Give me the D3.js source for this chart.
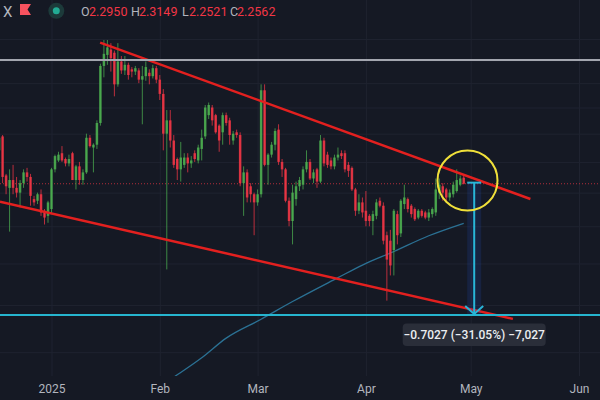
<!DOCTYPE html>
<html>
<head>
<meta charset="utf-8">
<script src="https://cdn.jsdelivr.net/npm/d3@7"></script>
<style>
  html, body { margin: 0; padding: 0; background: #151924; overflow: hidden; }
  svg { display: block; }
  text { font-family: Roboto, "Noto Sans", sans-serif; }
</style>
</head>
<body>
<svg id="chart" width="600" height="400"></svg>
<script>
// daily candles, first one on 17 Dec 2024, one per day
const firstDay = new Date(Date.UTC(2024, 11, 17));

const openVals = [
  2.48, 2.58, 2.31, 2.23, 2.28, 2.23, 2.20, 2.26, 2.33, 2.30, 2.16, 2.15, 2.19, 2.09, 2.06,
  2.10, 2.35, 2.41, 2.46, 2.42, 2.39, 2.46, 2.28, 2.37, 2.28, 2.33, 2.57, 2.50, 2.52, 2.68,
  3.15, 3.25, 3.30, 3.27, 2.99, 3.19, 3.11, 3.16, 3.12, 3.10, 3.11, 3.03, 3.06, 3.09, 3.06, 3.13,
  3.03, 2.91, 2.60, 2.70, 2.55, 2.42, 2.35, 2.38, 2.43, 2.39, 2.46, 2.41, 2.49, 2.58, 2.74,
  2.80, 2.74, 2.66, 2.61, 2.74, 2.70, 2.55, 2.61, 2.59, 2.26, 2.33, 2.24, 2.19,
  2.14, 2.19, 2.94, 2.38, 2.45, 2.52, 2.63, 2.40, 2.35, 2.15, 2.03, 2.16, 2.24, 2.25, 2.35,
  2.40, 2.29, 2.35, 2.27, 2.55, 2.45, 2.41, 2.37, 2.43, 2.46, 2.46, 2.38, 2.36, 2.22, 2.09, 2.14,
  2.09, 2.06, 2.03, 2.06, 2.15, 2.12, 1.95, 1.92, 1.87, 2.07, 1.96, 2.13, 2.16, 2.12, 2.10,
  2.05, 2.09, 2.08, 2.05, 2.07, 2.08, 2.20, 2.24, 2.22, 2.17, 2.19, 2.21, 2.25, 2.2950
];
const highVals = [
  2.60, 2.59, 2.32, 2.35, 2.38, 2.30, 2.28, 2.35, 2.36, 2.32, 2.18, 2.20, 2.22, 2.10, 2.15,
  2.36, 2.45, 2.47, 2.51, 2.43, 2.45, 2.47, 2.38, 2.40, 2.35, 2.60, 2.59, 2.53, 2.70, 3.17,
  3.39, 3.39, 3.36, 3.29, 3.36, 3.24, 3.24, 3.18, 3.14, 3.15, 3.13, 3.15, 3.19, 3.12, 3.16, 3.15,
  3.07, 2.95, 2.78, 2.78, 2.59, 2.43, 2.54, 2.46, 2.46, 2.44, 2.48, 2.52, 2.63, 2.82, 2.84,
  2.82, 2.75, 2.67, 2.76, 2.76, 2.72, 2.62, 2.63, 2.61, 2.37, 2.35, 2.26, 2.20,
  2.22, 2.99, 2.99, 2.46, 2.54, 2.64, 2.67, 2.42, 2.36, 2.17, 2.25, 2.27, 2.30, 2.37, 2.48,
  2.42, 2.35, 2.36, 2.59, 2.57, 2.47, 2.43, 2.45, 2.50, 2.48, 2.48, 2.40, 2.37, 2.23, 2.19, 2.17,
  2.21, 2.07, 2.09, 2.16, 2.17, 2.14, 1.97, 1.98, 2.10, 2.09, 2.16, 2.25, 2.17, 2.13, 2.11,
  2.10, 2.10, 2.09, 2.10, 2.11, 2.29, 2.29, 2.26, 2.23, 2.22, 2.27, 2.35, 2.31, 2.3149
];
const lowVals = [
  2.45, 2.26, 2.19, 1.97, 2.19, 2.17, 2.11, 2.23, 2.27, 2.12, 2.12, 2.13, 2.06, 2.01, 2.02,
  2.07, 2.33, 2.40, 2.40, 2.37, 2.37, 2.28, 2.22, 2.25, 2.25, 2.32, 2.50, 2.33, 2.49, 2.66,
  3.05, 3.16, 3.10, 2.89, 2.97, 3.08, 3.07, 3.03, 3.05, 3.07, 3.00, 2.67, 3.02, 2.99, 3.04, 3.00,
  2.86, 2.48, 1.77, 2.50, 2.36, 2.28, 2.27, 2.36, 2.33, 2.36, 2.40, 2.39, 2.41, 2.56, 2.71,
  2.66, 2.60, 2.47, 2.52, 2.66, 2.52, 2.52, 2.57, 2.24, 2.06, 2.14, 2.14, 1.95,
  2.12, 2.17, 2.37, 2.25, 2.43, 2.48, 2.38, 2.30, 2.14, 2.00, 1.90, 2.12, 2.21, 2.22, 2.33,
  2.28, 2.26, 2.23, 2.26, 2.37, 2.36, 2.35, 2.35, 2.41, 2.42, 2.33, 2.30, 2.21, 2.06, 2.07, 2.05,
  2.00, 2.00, 1.95, 2.04, 2.11, 1.90, 1.62, 1.74, 1.74, 1.90, 1.94, 2.10, 2.08, 2.05, 2.03,
  2.04, 2.05, 2.04, 2.03, 2.05, 2.06, 2.16, 2.15, 2.14, 2.15, 2.17, 2.20, 2.24, 2.2521
];
const closeVals = [
  2.57, 2.30, 2.24, 2.28, 2.23, 2.20, 2.26, 2.33, 2.30, 2.18, 2.14, 2.19, 2.08, 2.05, 2.14,
  2.35, 2.44, 2.45, 2.41, 2.39, 2.42, 2.28, 2.37, 2.28, 2.33, 2.57, 2.51, 2.52, 2.68, 3.15,
  3.26, 3.32, 3.22, 2.99, 3.19, 3.11, 3.16, 3.07, 3.10, 3.13, 3.03, 3.06, 3.14, 3.06, 3.13, 3.03,
  2.91, 2.60, 2.70, 2.55, 2.38, 2.35, 2.43, 2.43, 2.39, 2.41, 2.42, 2.50, 2.57, 2.80, 2.82,
  2.70, 2.61, 2.55, 2.74, 2.68, 2.59, 2.60, 2.59, 2.26, 2.33, 2.17, 2.19, 2.14,
  2.19, 2.94, 2.38, 2.45, 2.52, 2.62, 2.40, 2.35, 2.15, 2.03, 2.20, 2.24, 2.28, 2.35, 2.40,
  2.29, 2.33, 2.27, 2.55, 2.39, 2.38, 2.37, 2.43, 2.45, 2.44, 2.35, 2.34, 2.22, 2.09, 2.14, 2.08,
  2.03, 2.03, 2.07, 2.14, 2.12, 1.92, 1.82, 1.79, 2.09, 1.95, 2.15, 2.17, 2.10, 2.07, 2.04,
  2.09, 2.06, 2.05, 2.08, 2.10, 2.22, 2.25, 2.20, 2.17, 2.20, 2.25, 2.28, 2.29, 2.2562
];

// slow moving average, read at a few dates
const maDates = ["2025-01-29", "2025-02-06", "2025-02-13", "2025-02-20", "2025-03-02", "2025-03-11",
                 "2025-03-24", "2025-03-31", "2025-04-09", "2025-04-19", "2025-04-29"];
const maVals = [1.247, 1.313, 1.378, 1.457, 1.537, 1.616, 1.729, 1.792, 1.862, 1.947, 2.017];

const monthTicks = ["2025-01-01", "2025-02-01", "2025-03-01", "2025-04-01", "2025-05-01", "2025-06-01"];
const monthLabels = ["2025", "Feb", "Mar", "Apr", "May", "Jun"];
const priceTicks = [1.4, 1.6, 1.8, 2.0, 2.2, 2.4, 2.6, 2.8, 3.0, 3.2, 3.4];

// drawings
const upperTrend = [["2025-01-14T22:00:00Z", 3.365], ["2025-05-18T02:00:00Z", 2.161]];
const lowerTrend = [["2024-12-17T06:00:00Z", 2.1445], ["2025-05-13T02:00:00Z", 1.5385]];
const resistanceLevel = 3.204;
const targetLevel = 1.5557;
const measureDates = ["2025-04-30", "2025-05-04"];
const measurePrices = [2.2631, 1.5604];
const measureText = "\u22120.7027 (\u221231.05%) \u22127,027";
const focusPoint = ["2025-04-30T02:00:00Z", 2.277];
const ohlcLabels = ["O", "H", "L", "C"];
const ohlcValues = ["2.2950", "2.3149", "2.2521", "2.2562"];

const W = 600, H = 400, plotBottom = 376;
const upColor = "#4caf50", downColor = "#f23645";

const candles = openVals.map((o, i) => ({
  date: d3.utcDay.offset(firstDay, i),
  open: o, high: highVals[i], low: lowVals[i], close: closeVals[i]
}));

const x = d3.scaleUtc()
  .domain([new Date("2025-01-01"), new Date("2025-06-01")])
  .range([51.5, 579]);
const y = d3.scaleLog()
  .domain([1.2, 3.6])
  .range([406.6, 18.8]);

const svg = d3.select("#chart");
svg.append("rect").attr("width", W).attr("height", H).attr("fill", "#151924");

svg.append("defs").append("clipPath").attr("id", "plot")
  .append("rect").attr("width", W).attr("height", plotBottom);

// grid
svg.append("g")
  .attr("transform", `translate(0,${plotBottom})`)
  .call(d3.axisBottom(x).tickValues(monthTicks.map(d => new Date(d))).tickSize(-plotBottom).tickFormat(""))
  .call(g => g.select(".domain").remove())
  .call(g => g.selectAll("line").attr("stroke", "#1f2330"));

svg.append("g")
  .call(d3.axisRight(y).tickValues(priceTicks).tickSize(W).tickFormat(""))
  .call(g => g.select(".domain").remove())
  .call(g => g.selectAll("line").attr("stroke", "#1f2330"));

const plot = svg.append("g").attr("clip-path", "url(#plot)");

// last price dotted line
const last = candles[candles.length - 1];
plot.append("line")
  .attr("x1", 0).attr("x2", W)
  .attr("y1", y(last.close)).attr("y2", y(last.close))
  .attr("stroke", downColor).attr("stroke-opacity", 0.7)
  .attr("stroke-width", 1).attr("stroke-dasharray", "1,2");

// moving average
plot.append("path")
  .datum(maDates.map((d, i) => [new Date(d), maVals[i]]))
  .attr("fill", "none")
  .attr("stroke", "#2b7194")
  .attr("stroke-width", 1.3)
  .attr("d", d3.line().x(d => x(d[0])).y(d => y(d[1])).curve(d3.curveMonotoneX));

// candles
const bar = plot.append("g").selectAll("g")
  .data(candles)
  .join("g")
  .attr("fill", d => d.close >= d.open ? upColor : downColor)
  .attr("stroke", d => d.close >= d.open ? upColor : downColor);

bar.append("line")
  .attr("x1", d => x(d.date)).attr("x2", d => x(d.date))
  .attr("y1", d => y(d.high)).attr("y2", d => y(d.low))
  .attr("stroke-width", 1)
  .attr("stroke-opacity", 0.75);

bar.append("rect")
  .attr("x", d => x(d.date) - 1.25)
  .attr("width", 2.5)
  .attr("y", d => y(Math.max(d.open, d.close)))
  .attr("height", d => Math.max(1, Math.abs(y(d.open) - y(d.close))))
  .attr("stroke", "none")
  .attr("fill-opacity", 0.85);

// trend lines
[upperTrend, lowerTrend].forEach(t => {
  plot.append("line")
    .attr("x1", x(new Date(t[0][0]))).attr("y1", y(t[0][1]))
    .attr("x2", x(new Date(t[1][0]))).attr("y2", y(t[1][1]))
    .attr("stroke", "#e3201f").attr("stroke-width", 2.5);
});

// horizontal levels
plot.append("line")
  .attr("x1", 0).attr("x2", W)
  .attr("y1", y(resistanceLevel)).attr("y2", y(resistanceLevel))
  .attr("stroke", "#a3a6af").attr("stroke-width", 2);

plot.append("line")
  .attr("x1", 0).attr("x2", W)
  .attr("y1", y(targetLevel)).attr("y2", y(targetLevel))
  .attr("stroke", "#26b5cf").attr("stroke-width", 2);

// measure tool
const mx0 = x(new Date(measureDates[0])), mx1 = x(new Date(measureDates[1]));
const mcx = (mx0 + mx1) / 2;
const my0 = y(measurePrices[0]), my1 = y(measurePrices[1]);
const measure = svg.append("g");
measure.append("rect")
  .attr("x", mx0).attr("width", mx1 - mx0)
  .attr("y", my0).attr("height", my1 - my0)
  .attr("fill", "#2962ff").attr("fill-opacity", 0.13);
measure.append("line")
  .attr("x1", mx0).attr("x2", mx1).attr("y1", my0).attr("y2", my0)
  .attr("stroke", "#29b6d8").attr("stroke-width", 2);
measure.append("line")
  .attr("x1", mcx).attr("x2", mcx).attr("y1", my0).attr("y2", my1)
  .attr("stroke", "#29b6d8").attr("stroke-width", 2);
measure.append("path")
  .attr("d", `M${mcx - 9},${my1 - 8}L${mcx},${my1}L${mcx + 9},${my1 - 8}`)
  .attr("fill", "none").attr("stroke", "#29b6d8").attr("stroke-width", 2);

measure.append("rect")
  .attr("x", mcx - 71.5).attr("y", my1 + 9.5)
  .attr("width", 143).attr("height", 22.5).attr("rx", 4)
  .attr("fill", "#2a2e39");
measure.append("text")
  .attr("x", mcx).attr("y", my1 + 21)
  .attr("text-anchor", "middle").attr("dominant-baseline", "central")
  .attr("fill", "#eceef2").attr("font-size", 12).attr("font-weight", 500)
  .text(measureText);

// highlight circle
svg.append("circle")
  .attr("cx", x(new Date(focusPoint[0]))).attr("cy", y(focusPoint[1]))
  .attr("r", 30)
  .attr("fill", "none").attr("stroke", "#f0e03a").attr("stroke-width", 2);

// time axis labels
svg.append("g")
  .attr("transform", `translate(0,${plotBottom})`)
  .call(d3.axisBottom(x).tickValues(monthTicks.map(d => new Date(d))).tickSize(0).tickPadding(8)
    .tickFormat((d, i) => monthLabels[i]))
  .call(g => g.select(".domain").remove())
  .call(g => g.selectAll("text").attr("fill", "#b2b5be").attr("font-size", 12)
    .attr("font-family", "Roboto, 'Noto Sans', sans-serif"));

// header legend
const head = svg.append("g");
head.append("text").attr("x", 3).attr("y", 16.5)
  .attr("fill", "#b2b5be").attr("font-size", 15).text("X");
head.append("path")
  .attr("d", "M20,4H31L27.5,9.5L31,15H20Z")
  .attr("fill", "#f7525f");
head.append("circle").attr("cx", 56.3).attr("cy", 10.8).attr("r", 8).attr("fill", "#1c3a3a");
head.append("circle").attr("cx", 56.3).attr("cy", 10.8).attr("r", 3.5).attr("fill", "#22ab94");

const letterX = [81, 131, 182, 230];
const valueX = [89, 139, 189, 237];
ohlcLabels.forEach((l, i) => {
  head.append("text").attr("x", letterX[i]).attr("y", 15.5).attr("font-size", 12.5)
    .attr("fill", "#b2b5be").text(l);
  head.append("text").attr("x", valueX[i]).attr("y", 15.5).attr("font-size", 12.5)
    .attr("fill", downColor).text(ohlcValues[i]);
});
</script>
</body>
</html>
